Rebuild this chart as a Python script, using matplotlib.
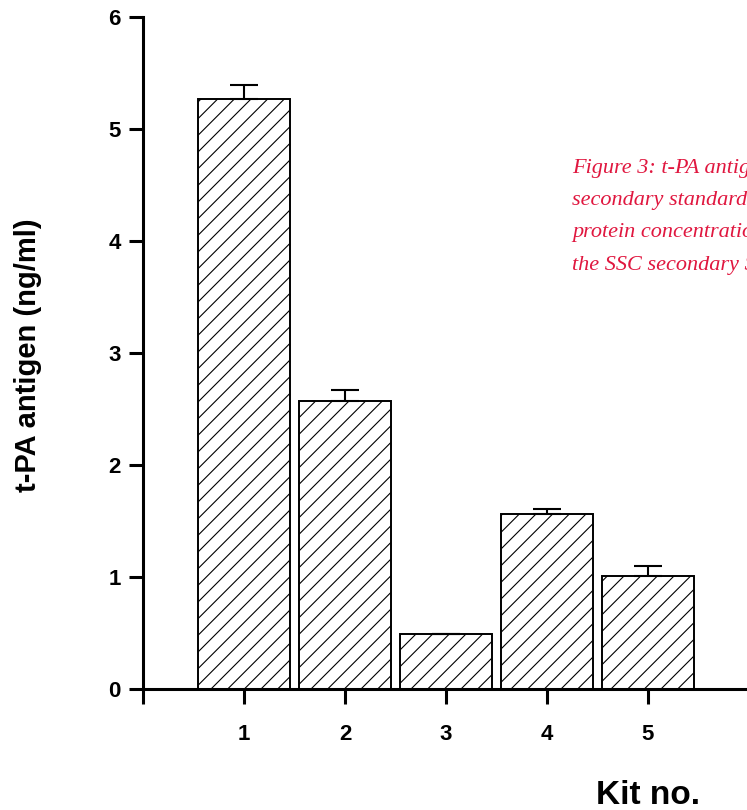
import numpy as np
import matplotlib.pyplot as plt

# values
kits = [1, 2, 3, 4, 5]
antigen = [5.27, 2.57, 0.49, 1.56, 1.01]
err_up = [0.12, 0.10, 0.0, 0.05, 0.09]

# caption is cropped at the right edge in the original
caption = ["Figure 3: t-PA antig",
           "secondary standard i",
           "protein concentration",
           "the SSC secondary S"]

plt.rcParams['font.family'] = ['Liberation Sans', 'DejaVu Sans']
plt.rcParams['hatch.linewidth'] = 0.8

fig = plt.figure(figsize=(7.47, 8.10), dpi=100)
ax = fig.add_axes([143/747, 121/810, 707/747, 672/810])

ax.bar(kits, antigen, width=0.91, color='white', edgecolor='black',
       linewidth=1.4, hatch='//')
ax.errorbar(kits, antigen, yerr=[np.zeros(len(err_up)), err_up], fmt='none',
            ecolor='black', elinewidth=1.5, capsize=10, capthick=1.5)

ax.set_xlim(0, 7)
ax.set_ylim(0, 6)
ax.set_xticks([0, 1, 2, 3, 4, 5, 6])
ax.set_xticklabels(['', '1', '2', '3', '4', '5', ''])
ax.set_yticks([0, 1, 2, 3, 4, 5, 6])
ax.spines['top'].set_visible(False)
ax.spines['right'].set_visible(False)
ax.spines['left'].set_linewidth(2.2)
ax.spines['bottom'].set_linewidth(2.2)
ax.tick_params(axis='both', width=2.2, labelsize=16, colors='black')
ax.tick_params(axis='y', length=10, pad=6)
ax.tick_params(axis='x', length=11, pad=14)
for lab in ax.get_xticklabels() + ax.get_yticklabels():
    lab.set_fontweight('bold')

fig.text(28/747, 1 - 355/810, "t-PA antigen (ng/ml)", rotation=90,
         ha='center', va='center', fontsize=21, fontweight='bold')
fig.text(648/747, 1 - 795/810, "Kit no.", ha='center', va='center',
         fontsize=24, fontweight='bold')

for i, line in enumerate(caption):
    fig.text(572/747, 1 - (168 + 32.5*i)/810, line, ha='left', va='center',
             fontsize=16, style='italic', family='Liberation Serif',
             color='#e0173f')

fig.savefig("out.png", dpi=100, facecolor='white')
